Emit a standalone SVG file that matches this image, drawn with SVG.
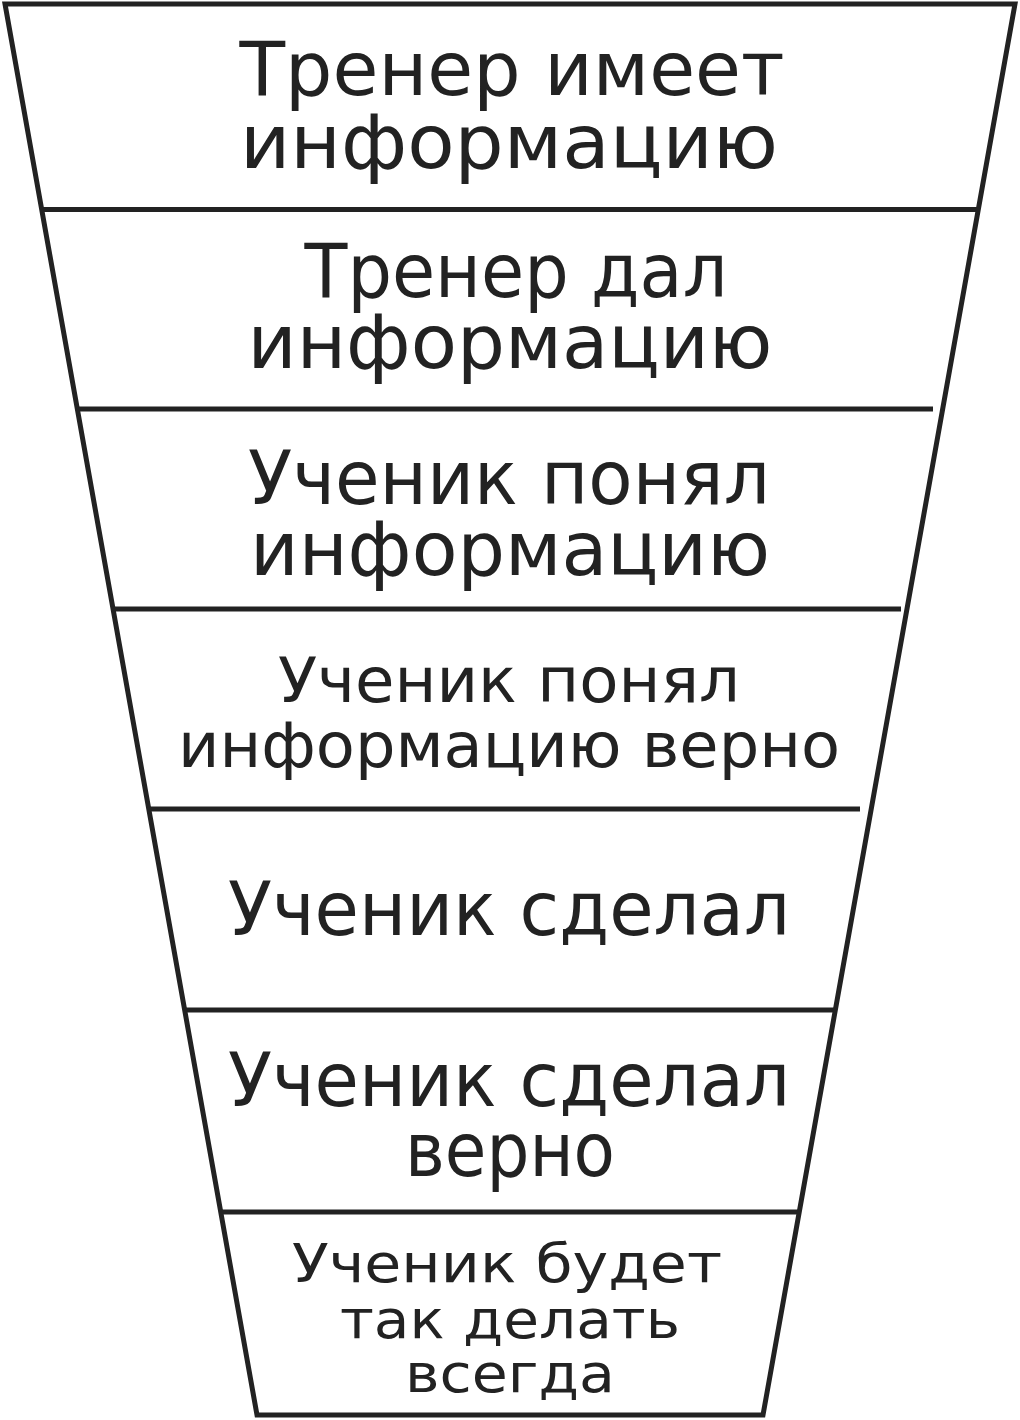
<svg xmlns="http://www.w3.org/2000/svg" width="1020" height="1420" viewBox="0 0 1020 1420">
<style>
.ln{stroke:#222;stroke-width:5;fill:none;stroke-linejoin:miter}
.t{font-family:"DejaVu Sans","Noto Sans",sans-serif;fill:#222;text-anchor:middle}
.big{font-size:74px}
.mid{font-size:62px}
.sm{font-size:54px}
</style>
<rect width="1020" height="1420" fill="#fff"/>
<g id="connectors">
<polygon class="ln" points="5,4 1015,4 763,1415 257,1415"/>
<line class="ln" x1="41" y1="209.5" x2="979" y2="209.5"/>
<line class="ln" x1="77" y1="409" x2="933" y2="409"/>
<line class="ln" x1="113" y1="609" x2="901" y2="609"/>
<line class="ln" x1="149" y1="809" x2="860" y2="809"/>
<line class="ln" x1="185" y1="1010" x2="835" y2="1010"/>
<line class="ln" x1="221" y1="1212" x2="799" y2="1212"/>
</g>
<g id="n1"><text class="t big" x="512" y="95" textLength="545" lengthAdjust="spacingAndGlyphs">Тренер имеет</text><text class="t big" x="509" y="168" textLength="538" lengthAdjust="spacingAndGlyphs">информацию</text></g>
<g id="n2"><text class="t big" x="516" y="297" textLength="423" lengthAdjust="spacingAndGlyphs">Тренер дал</text><text class="t big" x="510" y="368" textLength="525" lengthAdjust="spacingAndGlyphs">информацию</text></g>
<g id="n3"><text class="t big" x="509" y="504" textLength="522" lengthAdjust="spacingAndGlyphs">Ученик понял</text><text class="t big" x="510" y="575" textLength="520" lengthAdjust="spacingAndGlyphs">информацию</text></g>
<g id="n4"><text class="t mid" x="509" y="702" textLength="462" lengthAdjust="spacingAndGlyphs">Ученик понял</text><text class="t mid" x="509" y="767" textLength="662" lengthAdjust="spacingAndGlyphs">информацию верно</text></g>
<g id="n5"><text class="t big" x="509" y="935" textLength="562" lengthAdjust="spacingAndGlyphs">Ученик сделал</text></g>
<g id="n6"><text class="t big" x="509" y="1106" textLength="562" lengthAdjust="spacingAndGlyphs">Ученик сделал</text><text class="t big" x="510" y="1176" textLength="210" lengthAdjust="spacingAndGlyphs">верно</text></g>
<g id="n7"><text class="t sm" x="507" y="1282" textLength="430" lengthAdjust="spacingAndGlyphs">Ученик будет</text><text class="t sm" x="510" y="1338" textLength="340" lengthAdjust="spacingAndGlyphs">так делать</text><text class="t sm" x="510" y="1392" textLength="210" lengthAdjust="spacingAndGlyphs">всегда</text></g>
</svg>
